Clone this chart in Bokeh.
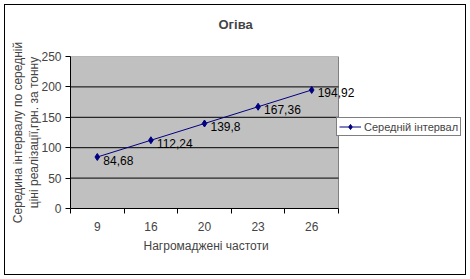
from bokeh.plotting import figure
from bokeh.layouts import column
from bokeh.models import (FixedTicker, Legend, LegendItem, ColumnDataSource, Range1d,
                          LinearAxis, Title)
from bokeh.embed import file_html
from bokeh.resources import INLINE
from bokeh.core.properties import value

categories = ["9", "16", "20", "23", "26"]
values = [84.68, 112.24, 139.8, 167.36, 194.92]
value_labels = ["84,68", "112,24", "139,8", "167,36", "194,92"]
y_ticks = [0, 50, 100, 150, 200, 250]
grid_ticks = [50, 100, 150, 200]
y_max = 250
series_name = "Середній інтервал"
title_text = "Огіва"
x_title = "Нагромаджені частоти"
y_title = "Середина інтервалу по середній\nціні реалізації,грн. за тонну"

FONT = "Liberation Sans"
n = len(categories)
xs = [i + 0.5 for i in range(n)]
bounds_ticks = list(range(n + 1))
src = ColumnDataSource(dict(x=xs, y=values, lbl=value_labels))

# plot area 268 px wide for the categories; frame extends to the right so that
# labels and legend are not clipped
area_px = 268.0
frame_px = 394.0
x_end = n * frame_px / area_px

p = figure(width=460, height=269, output_backend="svg", toolbar_location=None,
           title=None,
           x_range=Range1d(0, x_end), y_range=Range1d(0, y_max),
           x_axis_type=None,
           min_border_left=65, min_border_right=1, min_border_top=51,
           min_border_bottom=66)

p.background_fill_color = "white"
p.border_fill_color = "white"
p.outline_line_color = None

# blank spacer between plot area and chart title
spacer = Title(text=" ", standoff=9, text_font=FONT, text_font_size="12px")
p.add_layout(spacer, "above")

tt = Title(text=title_text, align="left", offset=148, vertical_align="bottom",
           standoff=0, text_font=FONT, text_font_size="13px",
           text_font_style="bold")
p.add_layout(tt, "above")

p.xgrid.visible = False
p.ygrid.visible = False

# plot area background and horizontal gridlines
p.quad(left=[0], right=[n], bottom=[0], top=[y_max], fill_color="#C0C0C0",
       line_color="#808080", level="underlay")
p.segment(x0=[0] * len(grid_ticks), x1=[n] * len(grid_ticks), y0=grid_ticks,
          y1=grid_ticks, line_color="black", line_width=1, level="underlay")

# x axis with tick marks between categories
xa = LinearAxis(ticker=FixedTicker(ticks=bounds_ticks), bounds=(0, n))
xa.major_label_overrides = {t: "" for t in bounds_ticks}
xa.major_label_text_font_size = "1px"
xa.major_label_standoff = 0
xa.major_tick_out = 5
xa.major_tick_in = 0
xa.minor_tick_out = 0
xa.minor_tick_in = 0
xa.axis_line_color = "black"
p.add_layout(xa, "below")

# category labels
xb = LinearAxis(ticker=FixedTicker(ticks=xs), bounds=(0, n))
xb.major_label_overrides = {x: c for x, c in zip(xs, categories)}
xb.axis_line_color = None
xb.major_tick_out = 0
xb.major_tick_in = 0
xb.minor_tick_out = 0
xb.minor_tick_in = 0
xb.major_label_standoff = 8
xb.major_label_text_font = FONT
xb.major_label_text_font_size = "12px"
p.add_layout(xb, "below")

# x axis title, centred under the plot area
xt = Title(text=x_title, align="left", offset=73, vertical_align="top",
           standoff=10, text_font=FONT, text_font_size="12px",
           text_font_style="normal")
p.add_layout(xt, "below")

ya = p.yaxis[0]
ya.ticker = FixedTicker(ticks=y_ticks)
ya.bounds = (0, y_max)
ya.major_tick_out = 5
ya.major_tick_in = 0
ya.minor_tick_out = 0
ya.minor_tick_in = 0
ya.axis_line_color = "black"
ya.major_label_standoff = 4
ya.major_label_text_font = FONT
ya.major_label_text_font_size = "12px"
ya.axis_label = y_title
ya.axis_label_text_font = FONT
ya.axis_label_text_font_size = "12px"
ya.axis_label_text_font_style = "normal"
ya.axis_label_standoff = -3

ln = p.line("x", "y", source=src, line_color="#000080", line_width=1)
mk = p.scatter("x", "y", source=src, marker="diamond", size=7,
               fill_color="#000080", line_color="#000080")
p.text("x", "y", text="lbl", source=src, x_offset=6, y_offset=3,
       text_baseline="middle", text_align="left",
       text_font=value(FONT), text_font_size="12px", text_color="black")

legend = Legend(items=[LegendItem(label=series_name, renderers=[ln, mk])],
                location=(266, 72), orientation="vertical",
                border_line_color="black", background_fill_color="white",
                background_fill_alpha=1, padding=2, margin=0, spacing=0,
                label_text_font=FONT, label_text_font_size="11px",
                label_height=13, glyph_height=13, glyph_width=22,
                label_standoff=3)
p.add_layout(legend, "center")

layout = column(p, styles={"border": "1px solid black", "margin": "4px 0 0 4px"})

open("out.html", "w").write(file_html(layout, INLINE))
